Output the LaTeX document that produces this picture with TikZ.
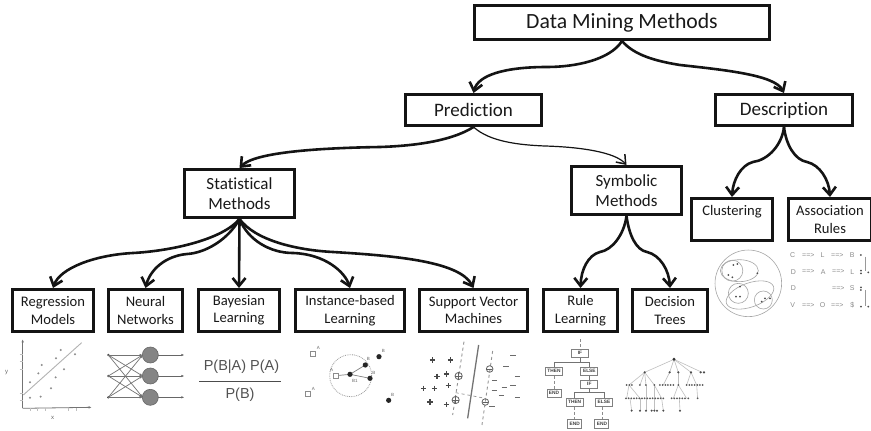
\documentclass[tikz,border=0pt]{standalone}
\usepackage{fontspec}
\setmainfont[Ligatures=NoCommon]{Carlito}
\newfontfamily\figfont{Liberation Sans}
\usetikzlibrary{arrows.meta}
\newcommand{\bigtxt}{\fontsize{21.7}{25}\selectfont}
\newcommand{\midtxt}{\fontsize{19}{22}\selectfont}
\newcommand{\stxt}{\fontsize{17}{20.5}\selectfont}
\newcommand{\ltxt}{\fontsize{14.6}{17.4}\selectfont}
\tikzset{
  mbox/.style={draw=black!92,line width=2.8pt,align=center,inner sep=0pt,text=black!90},
  conn/.style={draw=black!92,line width=2.6pt,-{Straight Barb[length=8pt,width=13pt]}},
  thinconn/.style={draw=black!92,line width=1.2pt,-{Straight Barb[length=8pt,width=12pt,line width=1.5pt]}},
  sk/.style={draw=black!55,line width=0.8pt},
  skl/.style={draw=black!25,line width=0.6pt},
  fig/.style={x=0.3333pt,y=-0.3333pt},
  tinyl/.style={text=black!60,font=\figfont\fontsize{4.5}{5}\selectfont,inner sep=0pt},
  rulebox/.style={draw=black!50,line width=1pt,fill=white,text=black!75,font=\figfont\bfseries\fontsize{4.8}{5}\selectfont,inner sep=0pt,minimum height=8.5pt},
  asc/.style={text=black!45,font=\figfont\fontsize{7}{7}\selectfont,inner sep=0pt},
}
\begin{document}
\begin{tikzpicture}[x=1pt,y=-1pt]
\clip (0,0) rectangle (871,431);
\fill[white] (0,0) rectangle (871,431);
% boxes
\node[mbox,minimum width=294.5pt,minimum height=34.2pt,font=\bigtxt] (data) at (622,22.5) {Data Mining Methods};
\node[mbox,minimum width=136.5pt,minimum height=31.2pt,font=\midtxt] (pred) at (473.5,110) {Prediction};
\node[mbox,minimum width=137.2pt,minimum height=31.2pt,font=\midtxt] (desc) at (784,110) {Description};
\node[mbox,minimum width=110.2pt,minimum height=48.2pt,font=\stxt] (stat) at (239.5,193.5) {Statistical\\Methods};
\node[mbox,minimum width=110.2pt,minimum height=48.2pt,font=\stxt] (symb) at (626.5,190.5) {Symbolic\\Methods};
\node[mbox,minimum width=81.2pt,minimum height=42.2pt,font=\ltxt] (reg) at (53,310.5) {Regression\\Models};
\node[mbox,minimum width=74.2pt,minimum height=42.2pt,font=\ltxt] (nn) at (145.5,310.5) {Neural\\Networks};
\node[mbox,minimum width=81.2pt,minimum height=42.2pt,font=\ltxt] (bay) at (239,310.5) {Bayesian\\Learning};
\node[mbox,minimum width=109.2pt,minimum height=42.2pt,font=\ltxt] (inst) at (350,310.5) {Instance-based\\Learning};
\node[mbox,minimum width=108.2pt,minimum height=42.2pt,font=\ltxt] (svm) at (473.5,310.5) {Support Vector\\Machines};
\node[mbox,minimum width=74.2pt,minimum height=42.2pt,font=\ltxt] (rule) at (580.5,310.5) {Rule\\Learning};
\node[mbox,minimum width=75.2pt,minimum height=42.2pt,font=\ltxt] (dec) at (670,310.5) {Decision\\Trees};
\node[mbox,minimum width=81.2pt,minimum height=42.2pt,font=\ltxt] (clu) at (732,219.5) {Clustering\\\mbox{}};
\node[mbox,minimum width=83.2pt,minimum height=42.2pt,font=\ltxt] (asso) at (830,219.5) {Association\\Rules};
% connectors
\draw[conn] (data.south) .. controls (610,60) and (575,67) .. (547,67) .. controls (505,67) and (478,75) .. (pred.north);
\draw[conn] (data.south) .. controls (634,55) and (655,61) .. (680,65) .. controls (725,70) and (775,75) .. (desc.north);
\draw[conn] (pred.south) .. controls (450,142) and (410,146) .. (380,147) .. controls (320,148) and (255,152) .. (stat.north);
\draw[thinconn] (pred.south) .. controls (490,142) and (520,145) .. (545,146) .. controls (580,147) and (615,152) .. (symb.north);
\draw[conn] (stat.south) .. controls (222,240) and (170,251) .. (133,253) .. controls (95,255) and (60,268) .. (reg.north);
\draw[conn] (stat.south) .. controls (228,240) and (205,253) .. (187,254) .. controls (165,256) and (150,270) .. (nn.north);
\draw[conn] (stat.south) -- (bay.north);
\draw[conn] (stat.south) .. controls (248,240) and (270,253) .. (293,253) .. controls (325,254) and (345,272) .. (inst.north);
\draw[conn] (stat.south) .. controls (255,240) and (295,250) .. (333,252) .. controls (400,256) and (460,262) .. (svm.north);
\draw[conn] (symb.south) .. controls (624,235) and (612,250) .. (600,252) .. controls (588,255) and (581,270) .. (rule.north);
\draw[conn] (symb.south) .. controls (629,235) and (636,250) .. (647,252) .. controls (660,255) and (669,270) .. (dec.north);
\draw[conn] (desc.south) .. controls (782,145) and (768,160) .. (753,162) .. controls (741,165) and (733,180) .. (clu.north);
\draw[conn] (desc.south) .. controls (786,145) and (795,160) .. (807,162) .. controls (820,165) and (829,180) .. (asso.north);
% scatter plot
\begin{scope}[shift={(0,330)},fig]
\draw[sk,-{Latex[length=3pt,width=2.5pt]}] (68,235) -- (68,28);
\draw[sk,-{Latex[length=3pt,width=2.5pt]}] (68,235) -- (275,232);
\draw[draw=black!30,line width=0.9pt] (70,195) -- (245,38);
\foreach \t in {72,95,117,190,210} \draw[skl] (60,\t) -- (68,\t);
\foreach \t in {90,113,136,205,228} \draw[skl] (\t,235) -- (\t,244);
\foreach \p/\q in {182/60,168/85,225/73,125/105,115/130,192/118,167/142,90/157,153/175,122/200,90/203}
  \fill[black!45] (\p,\q) circle (1.1pt);
\node[tinyl,font=\figfont\fontsize{6}{6}\selectfont] (ly) at (20,128) {y};
\node[tinyl,font=\figfont\fontsize{6}{6}\selectfont] (lx) at (158,265) {x};
\end{scope}
% neural network
\begin{scope}[shift={(0,330)},fig]
\foreach \a in {75,138,202} {
  \fill[black!75] (325,\a) circle (1.3pt);
  \foreach \b in {75,138,202}
    \draw[draw=black!55,line width=0.7pt,-{Latex[length=3pt,width=2.5pt]}] (325,\a) -- (428,\b);
}
\foreach \a in {75,138,202} {
  \draw[draw=black!60,line width=0.8pt,-{Latex[length=3pt,width=2.5pt]}] (470,\a) -- (553,\a);
  \fill[fill=black!48,draw=black!60,line width=0.6pt] (451,\a) circle (8pt);
}
\end{scope}
% Bayes formula
\node[text=black!68,font=\figfont\fontsize{14.5}{16}\selectfont,inner sep=0pt] (bnum) at (241.5,367) {P(B|A) P(A)};
\node[text=black!68,font=\figfont\fontsize{14.5}{16}\selectfont,inner sep=0pt] (bden) at (240,395) {P(B)};
\draw[draw=black!70,line width=1.5pt] (199,381.5) -- (281,381.5);
% nearest neighbours
\begin{scope}[shift={(290,330)},fig]
\draw[draw=black!40,densely dotted,line width=0.8pt] (182,137) circle (21pt);
\draw[draw=black!50,line width=0.7pt] (138,137) -- (180,133) -- (226,105);
\draw[draw=black!50,line width=0.7pt] (180,133) -- (240,145);
\foreach \p/\q in {68/72,138/137,53/192}
  \draw[draw=black!45,fill=white,line width=0.7pt] (\p-8,\q-8) rectangle (\p+8,\q+8);
\foreach \p/\q in {180/133,226/105,240/145,267/80,296/211}
  \fill[black!85] (\p,\q) circle (2.6pt);
\foreach \p/\q/\t in {85/55/A,125/120/A,70/177/A,235/88/B,280/63/B,252/128/B,308/195/B,195/153/B1}
  \node[tinyl] at (\p,\q) {\t};
\end{scope}
% support vector machine
\begin{scope}[shift={(290,330)},fig]
\draw[draw=black!55,line width=1.3pt] (566,45) -- (533,265);
\draw[draw=black!42,dashed,line width=0.9pt] (522,35) -- (488,255);
\draw[draw=black!42,dashed,line width=0.9pt] (608,63) -- (576,285);
\draw[draw=black!42,dashed,line width=0.7pt] (497,188) -- (586,205);
\foreach \p/\q in {428/90,482/90,441/139,470/132,401/175,434/175,475/167,420/216,469/224}
  \draw[draw=black!72,line width=1.1pt] (\p-8,\q) -- (\p+8,\q) (\p,\q-8) -- (\p,\q+8);
\foreach \p/\q in {506/138,497/210} {
  \draw[draw=black!62,line width=0.8pt] (\p,\q) circle (3.6pt);
  \draw[draw=black!62,line width=0.8pt] (\p-10,\q) -- (\p+10,\q) (\p,\q-10) -- (\p,\q+10);
}
\foreach \p/\q in {599/117,586/216} {
  \draw[draw=black!62,line width=0.8pt] (\p,\q) circle (3.3pt);
  \draw[draw=black!62,line width=0.8pt] (\p-8,\q) -- (\p+8,\q);
}
\foreach \p/\q in {669/75,648/110,683/139,614/153,613/181,643/174,669/167,635/196,683/202,606/230}
  \draw[draw=black!58,line width=1pt] (\p-8,\q) -- (\p+8,\q);
\end{scope}
% rule flowchart
\begin{scope}[shift={(530,330)},fig]
\draw[draw=black!45,line width=0.6pt,densely dashed] (150,28) -- (150,56);
\draw[sk] (150,84) -- (150,97) (72,110) -- (72,97) -- (178,97) -- (178,110);
\draw[sk] (178,176) -- (178,188) (134,203) -- (134,188) -- (222,188) -- (222,203);
\draw[draw=black!45,line width=0.6pt,densely dashed] (72,138) -- (72,176) (134,231) -- (134,268) (216,231) -- (216,268);
\draw[sk] (178,138) -- (178,150);
\node[rulebox,minimum width=17pt] (r1) at (150,70) {IF};
\node[rulebox,minimum width=17pt] (r2) at (72,124) {THEN};
\node[rulebox,minimum width=17pt] (r3) at (178,124) {ELSE};
\node[rulebox,minimum width=14pt] (r4) at (72,190) {END};
\node[rulebox,minimum width=17pt] (r5) at (178,163) {IF};
\node[rulebox,minimum width=17pt] (r6) at (134,217) {THEN};
\node[rulebox,minimum width=17pt] (r7) at (222,217) {ELSE};
\node[rulebox,minimum width=14pt] (r8) at (134,282) {END};
\node[rulebox,minimum width=14pt] (r9) at (216,282) {END};
\end{scope}
% decision tree
\begin{scope}[shift={(530,330)},fig]
\foreach \p in {344,419,445,483,516} \draw[skl] (432,88) -- (\p,127);
\foreach \p/\q in {344/297,344/330,344/348,344/373,419/400,445/445,483/470,483/500}
  \draw[skl] (\p,127) -- (\q,165);
\foreach \p/\q in {297/290,297/330,348/348,373/373,373/395,445/430,445/470,500/503}
  \draw[skl] (\p,165) -- (\q,205);
\foreach \p/\q in {300/305,330/330,348/348,373/373,395/400,448/450}
  \draw[skl] (\p,205) -- (\q,242);
\fill[black!80] (432,88) circle (1.6pt);
\foreach \p in {344,419,445,483,512,522} \fill[black!70] (\p,127) circle (1.2pt);
\foreach \p in {290,298,306,330,348,373,390,398,406,414,422,430,445,470,478,486,494,502,510,518}
  \fill[black!65] (\p,165) circle (1pt);
\foreach \p in {288,296,304,312,320,328,336,344,352,360,368,376,384,392,400,425,433,441,449,457,465,475,503}
  \fill[black!65] (\p,205) circle (1pt);
\foreach \p in {305,330,348,365,373,381,400,450}
  \fill[black!70] (\p,242) circle (1.1pt);
\end{scope}
% clusters
\begin{scope}[shift={(700,240)},fig]
\draw[skl,draw=black!35] (145,130) circle (33.3pt);
\draw[skl,draw=black!35] (118,92) ellipse (19pt and 11pt);
\draw[skl,draw=black!35] (97,92) circle (10.5pt);
\draw[skl,draw=black!35,rotate around={20:(150,165)}] (150,165) ellipse (25pt and 12pt);
\draw[skl,draw=black!35] (115,160) circle (10pt);
\draw[skl,draw=black!35] (190,180) circle (9pt);
\foreach \p/\q in {100/75,112/72,85/105,97/112,172/100,120/140,108/170,120/170,185/185,195/175,210/175}
  \fill[black!70] (\p,\q) circle (1pt);
\end{scope}
% association rules
\begin{scope}[shift={(700,240)},fig]
\foreach \p/\q/\t in {278/45/C,325/45/==>,368/45/L,412/45/==>,457/45/B,
                      280/95/D,325/95/==>,370/95/A,415/95/==>,457/95/L,
                      280/145/D,415/145/==>,457/145/S,
                      278/195/V,325/195/==>,368/195/O,412/195/==>,457/195/\$}
  \node[asc] at (\p,\q) {\t};
\draw[draw=black!40,line width=0.7pt] (496,50) -- (496,92) (496,150) -- (496,197);
\foreach \p/\q in {483/45,483/92,483/100,505/97,483/142,483/150,483/200,505/200}
  \fill[black!70] (\p,\q) circle (1pt);
\end{scope}
\end{tikzpicture}
\end{document}
